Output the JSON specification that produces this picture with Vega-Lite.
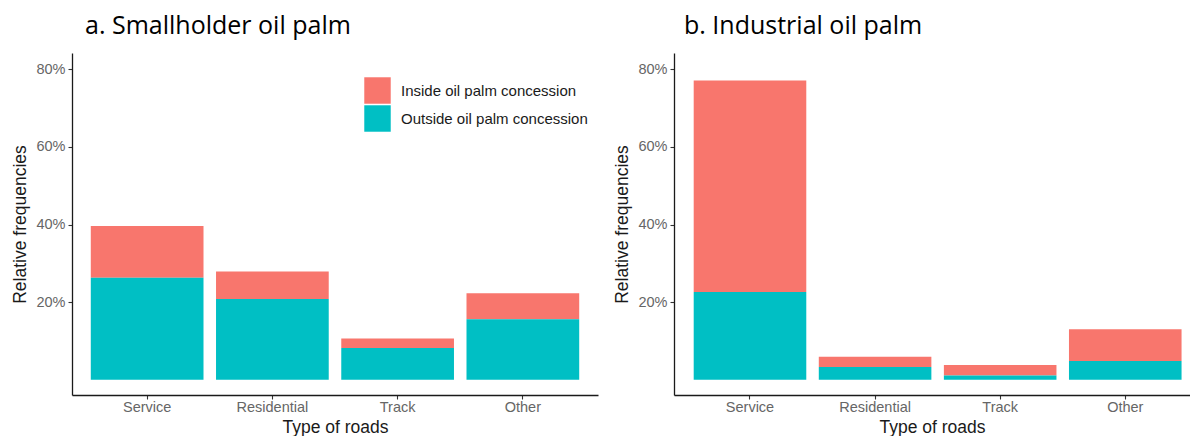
{
  "$schema": "https://vega.github.io/schema/vega-lite/v6.json",
  "background": "white",
  "padding": {"left": 11, "top": 14, "right": 0, "bottom": 0},
  "spacing": 15,
  "config": {
    "view": {"stroke": null},
    "font": "Liberation Sans",
    "axis": {
      "domainColor": "#1a1a1a",
      "domainWidth": 1.3,
      "tickColor": "#333333",
      "tickWidth": 1.1,
      "tickSize": 4,
      "grid": false,
      "labelFont": "Liberation Sans",
      "labelFontSize": 14.5,
      "labelColor": "#666666",
      "titleFont": "Liberation Sans",
      "titleFontSize": 17.5,
      "titleFontWeight": "normal",
      "titleColor": "#1a1a1a"
    },
    "title": {
      "font": "Open Sans",
      "fontSize": 25,
      "fontWeight": "normal",
      "color": "#000000",
      "anchor": "start",
      "frame": "group",
      "baseline": "alphabetic",
      "dx": 13,
      "offset": 14
    }
  },
  "data": {
    "values": [
      {"plot": "Smallholder", "road": "Service", "concession": "Inside oil palm concession", "share": 0.133},
      {"plot": "Smallholder", "road": "Service", "concession": "Outside oil palm concession", "share": 0.263},
      {"plot": "Smallholder", "road": "Residential", "concession": "Inside oil palm concession", "share": 0.071},
      {"plot": "Smallholder", "road": "Residential", "concession": "Outside oil palm concession", "share": 0.208},
      {"plot": "Smallholder", "road": "Track", "concession": "Inside oil palm concession", "share": 0.024},
      {"plot": "Smallholder", "road": "Track", "concession": "Outside oil palm concession", "share": 0.082},
      {"plot": "Smallholder", "road": "Other", "concession": "Inside oil palm concession", "share": 0.067},
      {"plot": "Smallholder", "road": "Other", "concession": "Outside oil palm concession", "share": 0.156},
      {"plot": "Industrial", "road": "Service", "concession": "Inside oil palm concession", "share": 0.545},
      {"plot": "Industrial", "road": "Service", "concession": "Outside oil palm concession", "share": 0.226},
      {"plot": "Industrial", "road": "Residential", "concession": "Inside oil palm concession", "share": 0.026},
      {"plot": "Industrial", "road": "Residential", "concession": "Outside oil palm concession", "share": 0.033},
      {"plot": "Industrial", "road": "Track", "concession": "Inside oil palm concession", "share": 0.027},
      {"plot": "Industrial", "road": "Track", "concession": "Outside oil palm concession", "share": 0.011},
      {"plot": "Industrial", "road": "Other", "concession": "Inside oil palm concession", "share": 0.082},
      {"plot": "Industrial", "road": "Other", "concession": "Outside oil palm concession", "share": 0.048}
    ]
  },
  "resolve": {"scale": {"color": "independent", "x": "independent", "y": "independent"}},
  "hconcat": [
    {
      "title": {"text": "a. Smallholder oil palm"},
      "width": 526,
      "height": 342,
      "transform": [{"filter": "datum.plot === 'Smallholder'"}],
      "mark": {"type": "bar"},
      "encoding": {
        "x": {
          "field": "road",
          "type": "nominal",
          "sort": ["Service", "Residential", "Track", "Other"],
          "scale": {"paddingInner": 0.1, "paddingOuter": 0.15},
          "axis": {"title": "Type of roads", "labelAngle": 0, "labelPadding": 1, "titlePadding": 5}
        },
        "y": {
          "field": "share",
          "type": "quantitative",
          "stack": "zero",
          "scale": {"domain": [-0.0394, 0.842], "nice": false, "zero": false},
          "axis": {"title": "Relative frequencies", "values": [0.2, 0.4, 0.6, 0.8], "format": ".0%", "labelPadding": 3, "titlePadding": 6}
        },
        "color": {
          "field": "concession",
          "type": "nominal",
          "scale": {
            "domain": ["Inside oil palm concession", "Outside oil palm concession"],
            "range": ["#F8766D", "#00BFC4"]
          },
          "legend": {
            "title": null,
            "orient": "none",
            "legendX": 292,
            "legendY": 24,
            "symbolType": "square",
            "symbolSize": 700,
            "symbolStrokeWidth": 0,
            "symbolOpacity": 1,
            "rowPadding": 1,
            "labelOffset": 10,
            "labelFont": "Liberation Sans",
            "labelFontSize": 15,
            "labelColor": "#1a1a1a",
            "labelLimit": 300
          }
        },
        "order": {"field": "concession", "sort": "descending"}
      }
    },
    {
      "title": {"text": "b. Industrial oil palm", "dx": 10},
      "width": 516,
      "height": 342,
      "transform": [{"filter": "datum.plot === 'Industrial'"}],
      "mark": {"type": "bar"},
      "encoding": {
        "x": {
          "field": "road",
          "type": "nominal",
          "sort": ["Service", "Residential", "Track", "Other"],
          "scale": {"paddingInner": 0.1, "paddingOuter": 0.1125, "align": 0.7},
          "axis": {"title": "Type of roads", "labelAngle": 0, "labelPadding": 1, "titlePadding": 5}
        },
        "y": {
          "field": "share",
          "type": "quantitative",
          "stack": "zero",
          "scale": {"domain": [-0.0394, 0.842], "nice": false, "zero": false},
          "axis": {"title": "Relative frequencies", "values": [0.2, 0.4, 0.6, 0.8], "format": ".0%", "labelPadding": 3, "titlePadding": 6}
        },
        "color": {
          "field": "concession",
          "type": "nominal",
          "scale": {
            "domain": ["Inside oil palm concession", "Outside oil palm concession"],
            "range": ["#F8766D", "#00BFC4"]
          },
          "legend": null
        },
        "order": {"field": "concession", "sort": "descending"}
      }
    }
  ]
}
